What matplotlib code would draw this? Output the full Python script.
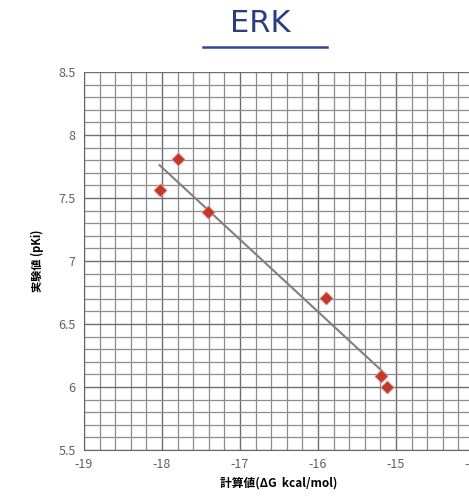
import matplotlib
matplotlib.use("Agg")
import matplotlib.pyplot as plt
import numpy as np
from matplotlib.ticker import MultipleLocator

plt.rcParams['font.family'] = ['Noto Sans CJK JP', 'DejaVu Sans']

calc_dg = [-18.03, -17.80, -17.41, -15.90, -15.19, -15.12]
exp_pki = [7.56, 7.81, 7.39, 6.71, 6.09, 6.00]
x_ticks = [-19, -18, -17, -16, -15, -14]
y_ticks = [5.5, 6, 6.5, 7, 7.5, 8, 8.5]
title = "ERK"
xlabel = "計算値(ΔG  kcal/mol)"
ylabel = "実験値 (pKi)"

fig = plt.figure(figsize=(4.69, 4.99), dpi=100)
ax = fig.add_axes([84/469, 1-450/499, (474-84)/469, (450-72)/499])
ax.set_xlim(-19, -14)
ax.set_ylim(5.5, 8.5)
ax.set_xticks(x_ticks)
ax.set_yticks(y_ticks)
ax.set_xticklabels([str(t) for t in x_ticks])
ax.set_yticklabels([("%g" % t) for t in y_ticks])
ax.xaxis.set_minor_locator(MultipleLocator(0.2))
ax.yaxis.set_minor_locator(MultipleLocator(0.1))
ax.grid(which='major', color='#6e6e6e', linewidth=1.0)
ax.grid(which='minor', color='#8c8c8c', linewidth=0.9)
ax.set_axisbelow(True)
for s in ['top', 'right']:
    ax.spines[s].set_visible(False)
ax.spines['left'].set_color('#666666')
ax.spines['bottom'].set_color('#666666')
ax.tick_params(which='both', length=0, labelsize=9, labelcolor='#606060', pad=6)

coef = np.polyfit(calc_dg, exp_pki, 1)
xl = np.array([min(calc_dg), max(calc_dg)])
ax.plot(xl, np.polyval(coef, xl), color='#808080', linewidth=1.5, zorder=2)
ax.scatter(calc_dg, exp_pki, marker='D', s=45, color='#c0392b', zorder=3,
           edgecolors='#e8a0a0', linewidths=0.5)

ax.set_xlabel(xlabel, fontsize=8.5, fontweight='bold', labelpad=4)
ax.set_ylabel(ylabel, fontsize=8, fontweight='bold', labelpad=10)

fig.text(260/469, 1-24/499, title, ha='center', va='center', fontsize=22,
         color='#2b3d80', family='DejaVu Sans')
fig.add_artist(plt.Line2D([203/469, 327/469], [1-47/499, 1-47/499],
                          color='#34449a', linewidth=1.8))

fig.savefig("out.png", dpi=100)
